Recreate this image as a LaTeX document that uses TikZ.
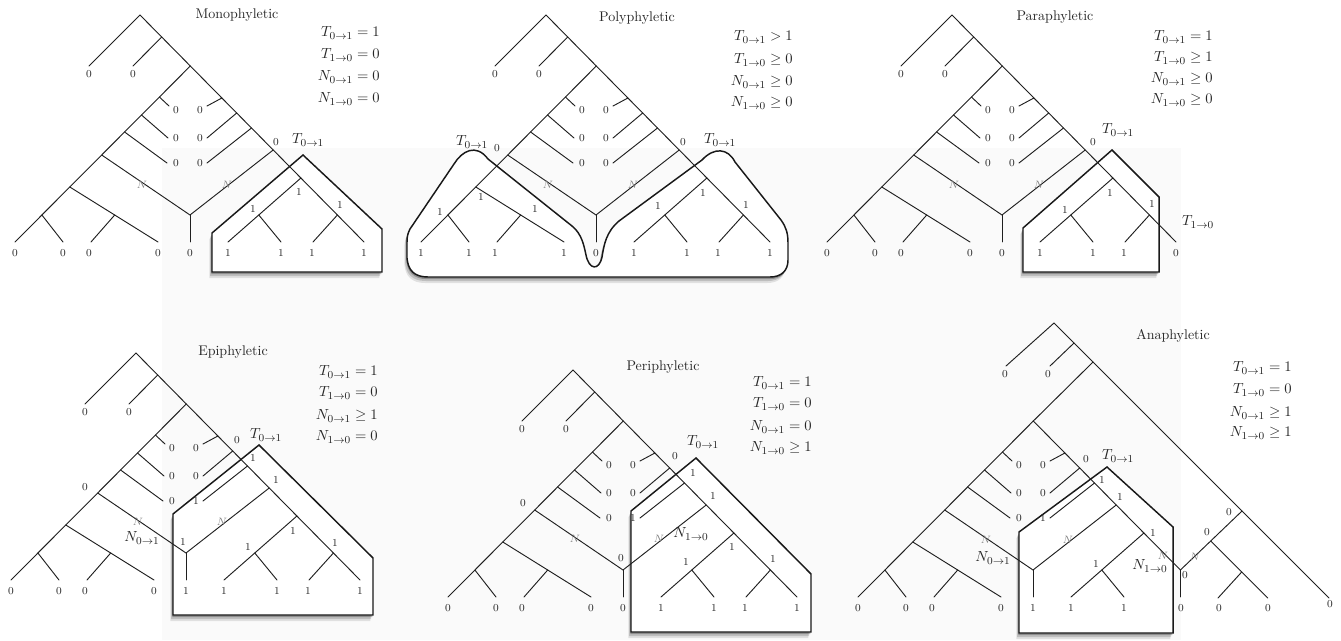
\documentclass[tikz,border=0pt]{standalone}
\usepackage{amsmath}
\usetikzlibrary{shadows}
\tikzset{
  br/.style={line width=0.7pt, draw=black!88, line cap=round},
  lf/.style={font=\fontsize{8}{9}\selectfont, text=black!85, inner sep=0pt},
  nl/.style={font=\fontsize{8.5}{9}\selectfont, text=black!50, inner sep=0pt},
  tl/.style={font=\fontsize{11}{13}\selectfont, inner sep=0pt, text=black!85},
  ttl/.style={font=\fontsize{10.5}{12}\selectfont, inner sep=0pt, text=black!85},
  frm/.style={font=\fontsize{11}{13}\selectfont, anchor=east, inner sep=0pt, text=black!85},
  boxx/.style={line width=1.1pt, draw=black!90, fill=white, line join=miter,
     drop shadow={shadow xshift=-2pt, shadow yshift=-4.5pt, opacity=.10, fill=black},
     drop shadow={shadow xshift=-1.5pt, shadow yshift=-3pt, opacity=.15, fill=black},
     drop shadow={shadow xshift=-0.5pt, shadow yshift=-1.6pt, opacity=.25, fill=black}},
}
% common core of every tree (local pixel frame)
\newcommand\coreTree{%
 \coordinate (S2) at (190.3,66);
 \coordinate (Lend) at (15,242);
 \coordinate (Q1) at (159.4,97);  \coordinate (q1) at (169,106);
 \coordinate (Q2) at (141.5,115); \coordinate (q2) at (168,138);
 \coordinate (Q3) at (124.6,132); \coordinate (q3) at (167,163);
 \coordinate (Q4) at (101.7,155);
 \coordinate (Q5) at (69.8,187);  \coordinate (l5) at (158,242);
 \coordinate (Q7) at (114.7,215); \coordinate (l7) at (91,242);
 \coordinate (Q6) at (41.9,215);  \coordinate (l6) at (63,242);
 \coordinate (P1) at (221.9,98);  \coordinate (p1) at (207,106);
 \coordinate (P2) at (236.7,113); \coordinate (p2) at (207,138);
 \coordinate (P3) at (251.5,128); \coordinate (p3) at (207,163);
 \coordinate (P4) at (273.2,150);
 \coordinate (V) at (190,215);    \coordinate (lv) at (190,242);
 \coordinate (C1) at (300.9,178); \coordinate (c1) at (228,242);
 \coordinate (C2) at (258.8,215); \coordinate (c2) at (281,242);
 \coordinate (C3) at (337.4,215);
 \draw[br] (S2) -- (Lend);
 \draw[br] (S2) -- (C3);
 \draw[br] (Q1) -- (q1);
 \draw[br] (Q2) -- (q2);
 \draw[br] (Q3) -- (q3);
 \draw[br] (Q4) -- (V) -- (P4);
 \draw[br] (V) -- (lv);
 \draw[br] (Q5) -- (l5);
 \draw[br] (Q7) -- (l7);
 \draw[br] (Q6) -- (l6);
 \draw[br] (P1) -- (p1);
 \draw[br] (P2) -- (p2);
 \draw[br] (P3) -- (p3);
 \draw[br] (C1) -- (c1);
 \draw[br] (C2) -- (c2);
}
\newcommand\topTail{%
 \coordinate (R) at (140,15);    \coordinate (la) at (89,66);
 \coordinate (S1) at (161.7,37); \coordinate (lb) at (133,66);
 \coordinate (E) at (364,242);   \coordinate (c3) at (313,242);
 \draw[br] (la) -- (R) -- (S2);
 \draw[br] (S1) -- (lb);
 \draw[br] (C3) -- (E);
 \draw[br] (C3) -- (c3);
}
\newcommand\topLabels{%
 \node[lf] (ta) at (89,74) {0};
 \node[lf] (tb) at (133,74) {0};
}
\newcommand\leafLabels[9]{%
 \node[lf] (u1) at (15,253) {#1};
 \node[lf] (u2) at (63,253) {#2};
 \node[lf] (u3) at (89,253) {#3};
 \node[lf] (u4) at (158,253) {#4};
 \node[lf] (u5) at (190,253) {#5};
 \node[lf] (u6) at (228,253) {#6};
 \node[lf] (u7) at (281,253) {#7};
 \node[lf] (u8) at (312,253) {#8};
 \node[lf] (u9) at (364,253) {#9};
}
\newcommand\rowLabels[6]{%
 \node[lf] (r1) at (176,110) {#1};
 \node[lf] (r2) at (176,138) {#2};
 \node[lf] (r3) at (176,163) {#3};
 \node[lf] (r4) at (200,110) {#4};
 \node[lf] (r5) at (200,138) {#5};
 \node[lf] (r6) at (200,163) {#6};
}
\begin{document}
\begin{tikzpicture}[x=0.75pt,y=-0.75pt]
\useasboundingbox (0,0) rectangle (1341,640);
\fill[black!2] (162,148) rectangle (1181,640);

% ================= Monophyletic
\begin{scope}
 \draw[boxx] (303,155) -- (212,233) -- (212,272) -- (382,272) -- (382,229) -- cycle;
 \coreTree \topTail \topLabels
 \leafLabels{0}{0}{0}{0}{0}{1}{1}{1}{1}
 \rowLabels{0}{0}{0}{0}{0}{0}
 \node[lf] (m0) at (276,142) {0};
 \node[tl] (mT) at (308,140) {$T_{0\to1}$};
 \node[lf] (m1a) at (299,192) {1};
 \node[lf] (m1b) at (253,209) {1};
 \node[lf] (m1c) at (340,205) {1};
 \node[nl] (mNa) at (142,185) {$N$};
 \node[nl] (mNb) at (227,185) {$N$};
\end{scope}
\node[ttl] (tiMono) at (237,15) {Monophyletic};
\node[frm] (fm1) at (380,33) {$T_{0\to1} = 1$};
\node[frm] (fm2) at (380,55) {$T_{1\to0} = 0$};
\node[frm] (fm3) at (380,77) {$N_{0\to1} = 0$};
\node[frm] (fm4) at (380,99) {$N_{1\to0} = 0$};

% ================= Polyphyletic
\begin{scope}[shift={(406,0)}]
 \draw[boxx] (364,277) -- (22,277)
   .. controls (8,277) and (2,270) .. (1,258)
   -- (1,242)
   .. controls (1,236) and (2,233) .. (4,229)
   -- (48,164)
   .. controls (56,151) and (70,143) .. (82,159)
   -- (166,226)
   .. controls (176,234) and (178,246) .. (180,255)
   .. controls (183,270) and (193,271) .. (196,257)
   .. controls (198,245) and (200,232) .. (213,221)
   -- (296,160)
   .. controls (308,147) and (322,148) .. (329,162)
   -- (375,220)
   .. controls (380,227) and (382,233) .. (382,243)
   -- (382,260)
   .. controls (382,271) and (375,277) .. (364,277)
   -- cycle;
 \coreTree \topTail \topLabels
 \leafLabels{1}{1}{1}{1}{0}{1}{1}{1}{1}
 \rowLabels{0}{0}{0}{0}{0}{0}
 \node[lf] (p0a) at (91,148) {0};
 \node[tl] (pTa) at (66,142) {$T_{0\to1}$};
 \node[lf] (p1a) at (75,197) {1};
 \node[lf] (p1b) at (129,209) {1};
 \node[lf] (p1c) at (34,212) {1};
 \node[lf] (p0b) at (277,142) {0};
 \node[tl] (pTb) at (314,140) {$T_{0\to1}$};
 \node[lf] (p1d) at (297,193) {1};
 \node[lf] (p1e) at (252,206) {1};
 \node[lf] (p1f) at (340,205) {1};
 \node[nl] (pNa) at (142,185) {$N$};
 \node[nl] (pNb) at (227,185) {$N$};
\end{scope}
\node[ttl] (tiPoly) at (637,18) {Polyphyletic};
\node[frm] (fp1) at (793,37) {$T_{0\to1} > 1$};
\node[frm] (fp2) at (793,60) {$T_{1\to0} \geq 0$};
\node[frm] (fp3) at (793,82) {$N_{0\to1} \geq 0$};
\node[frm] (fp4) at (793,103) {$N_{1\to0} \geq 0$};

% ================= Paraphyletic
\begin{scope}[shift={(812,0)}]
 \draw[boxx] (300,150) -- (211,228) -- (211,272) -- (347,272) -- (347,197) -- cycle;
 \coreTree \topTail \topLabels
 \leafLabels{0}{0}{0}{0}{0}{1}{1}{1}{0}
 \rowLabels{0}{0}{0}{0}{0}{0}
 \node[lf] (a0) at (281,142) {0};
 \node[tl] (aT) at (306,130) {$T_{0\to1}$};
 \node[tl] (aT2) at (386,222) {$T_{1\to0}$};
 \node[lf] (a1a) at (298,193) {1};
 \node[lf] (a1b) at (253,210) {1};
 \node[lf] (a1c) at (340,204) {1};
 \node[nl] (aNa) at (142,185) {$N$};
 \node[nl] (aNb) at (227,185) {$N$};
\end{scope}
\node[ttl] (tiPara) at (1055,17) {Paraphyletic};
\node[frm] (fa1) at (1213,37) {$T_{0\to1} = 1$};
\node[frm] (fa2) at (1213,58) {$T_{1\to0} \geq 1$};
\node[frm] (fa3) at (1213,79) {$N_{0\to1} \geq 0$};
\node[frm] (fa4) at (1213,100) {$N_{1\to0} \geq 0$};

% ================= Epiphyletic
\begin{scope}[shift={(-4,338)}]
 \draw[boxx] (263,107) -- (177,176) -- (177,277) -- (377,277) -- (377,220) -- cycle;
 \coreTree \topTail \topLabels
 \leafLabels{0}{0}{0}{0}{1}{1}{1}{1}{1}
 \rowLabels{0}{0}{0}{0}{0}{1}
 \node[lf] (e0a) at (89,149) {0};
 \node[nl] (eNa) at (142,184) {$N$};
 \node[tl] (eN01) at (146,200) {$N_{0\to1}$};
 \node[lf] (e1v) at (187,204) {1};
 \node[nl] (eNb) at (226,184) {$N$};
 \node[lf] (e0b) at (241,102) {0};
 \node[tl] (eT) at (270,97) {$T_{0\to1}$};
 \node[lf] (e1a) at (257,120) {1};
 \node[lf] (e1b) at (280,142) {1};
 \node[lf] (e1c) at (297,193) {1};
 \node[lf] (e1d) at (252,209) {1};
 \node[lf] (e1e) at (339,205) {1};
\end{scope}
\node[ttl] (tiEpi) at (233,352) {Epiphyletic};
\node[frm] (fe1) at (378,372) {$T_{0\to1} = 1$};
\node[frm] (fe2) at (378,393) {$T_{1\to0} = 0$};
\node[frm] (fe3) at (378,416) {$N_{0\to1} \geq 1$};
\node[frm] (fe4) at (378,437) {$N_{1\to0} = 0$};

% ================= Periphyletic
\begin{scope}[shift={(433,355)}]
 \draw[boxx] (263,103) -- (198,156) -- (198,277) -- (378,277) -- (378,219) -- cycle;
 \coreTree \topTail \topLabels
 \leafLabels{0}{0}{0}{0}{0}{1}{1}{1}{1}
 \rowLabels{0}{0}{0}{0}{0}{1}
 \node[lf] (f0a) at (90,148) {0};
 \node[nl] (fNa) at (142,184) {$N$};
 \node[lf] (f0v) at (188,203) {0};
 \node[nl] (fNb) at (226,184) {$N$};
 \node[tl] (fN10) at (258,179) {$N_{1\to0}$};
 \node[lf] (f0b) at (242,101) {0};
 \node[tl] (fT) at (270,87) {$T_{0\to1}$};
 \node[lf] (f1a) at (260,118) {1};
 \node[lf] (f1b) at (280,141) {1};
 \node[lf] (f1c) at (299,192) {1};
 \node[lf] (f1d) at (253,207) {1};
 \node[lf] (f1e) at (340,204) {1};
\end{scope}
\node[ttl] (tiPeri) at (663,367) {Periphyletic};
\node[frm] (ff1) at (812,383) {$T_{0\to1} = 1$};
\node[frm] (ff2) at (812,404) {$T_{1\to0} = 0$};
\node[frm] (ff3) at (812,427) {$N_{0\to1} = 0$};
\node[frm] (ff4) at (812,448) {$N_{1\to0} \geq 1$};

% ================= Anaphyletic
\begin{scope}[shift={(843,355)}]
 \draw[boxx] (264,112) -- (176,177) -- (176,278) -- (330,278) -- (330,172) -- cycle;
 \coreTree
 \coordinate (A0) at (211,-32);
 \coordinate (A1) at (231,-12);
 \coordinate (A2) at (250,7);
 \coordinate (oa) at (163,11);
 \coordinate (ob) at (207,11);
 \coordinate (OE) at (486,243);
 \coordinate (X) at (399,156);
 \coordinate (Y) at (367.7,186);
 \coordinate (Yend) at (424.7,243);
 \coordinate (Z) at (398.7,217);
 \coordinate (Zend) at (375,243);
 \coordinate (v2) at (337.4,242);
 \draw[br] (oa) -- (A0) -- (OE);
 \draw[br] (A1) -- (ob);
 \draw[br] (A2) -- (S2);
 \draw[br] (X) -- (C3);
 \draw[br] (C3) -- (v2);
 \draw[br] (Y) -- (Yend);
 \draw[br] (Z) -- (Zend);
 \node[lf] (na) at (162,19) {0};
 \node[lf] (nb) at (205,19) {0};
 \leafLabels{0}{0}{0}{0}{1}{1}{1}{}{}
 \node[lf] (w1) at (338,253) {0};
 \node[lf] (w2) at (376,253) {0};
 \node[lf] (w3) at (425,253) {0};
 \node[lf] (w4) at (487,249) {0};
 \rowLabels{0}{0}{0}{0}{0}{1}
 \node[lf] (n0a) at (243,104) {0};
 \node[tl] (nT) at (275,101) {$T_{0\to1}$};
 \node[lf] (n1a) at (259,125) {1};
 \node[lf] (n1b) at (277,142) {1};
 \node[nl] (nNa) at (143,185) {$N$};
 \node[tl] (nN01) at (150,203) {$N_{0\to1}$};
 \node[nl] (nNb) at (225,185) {$N$};
 \node[lf] (n1c) at (253,209) {1};
 \node[lf] (n1d) at (310,178) {1};
 \node[tl] (nN10) at (307,211) {$N_{1\to0}$};
 \node[nl] (nNc) at (320,201) {$N$};
 \node[lf] (n0b) at (342,220) {0};
 \node[nl] (nNd) at (352,202) {$N$};
 \node[lf] (n0c) at (364,177) {0};
 \node[lf] (n0d) at (386,157) {0};
\end{scope}
\node[ttl] (tiAna) at (1173,336) {Anaphyletic};
\node[frm] (fn1) at (1292,368) {$T_{0\to1} = 1$};
\node[frm] (fn2) at (1292,390) {$T_{1\to0} = 0$};
\node[frm] (fn3) at (1292,413) {$N_{0\to1} \geq 1$};
\node[frm] (fn4) at (1292,433) {$N_{1\to0} \geq 1$};
\end{tikzpicture}
\end{document}
